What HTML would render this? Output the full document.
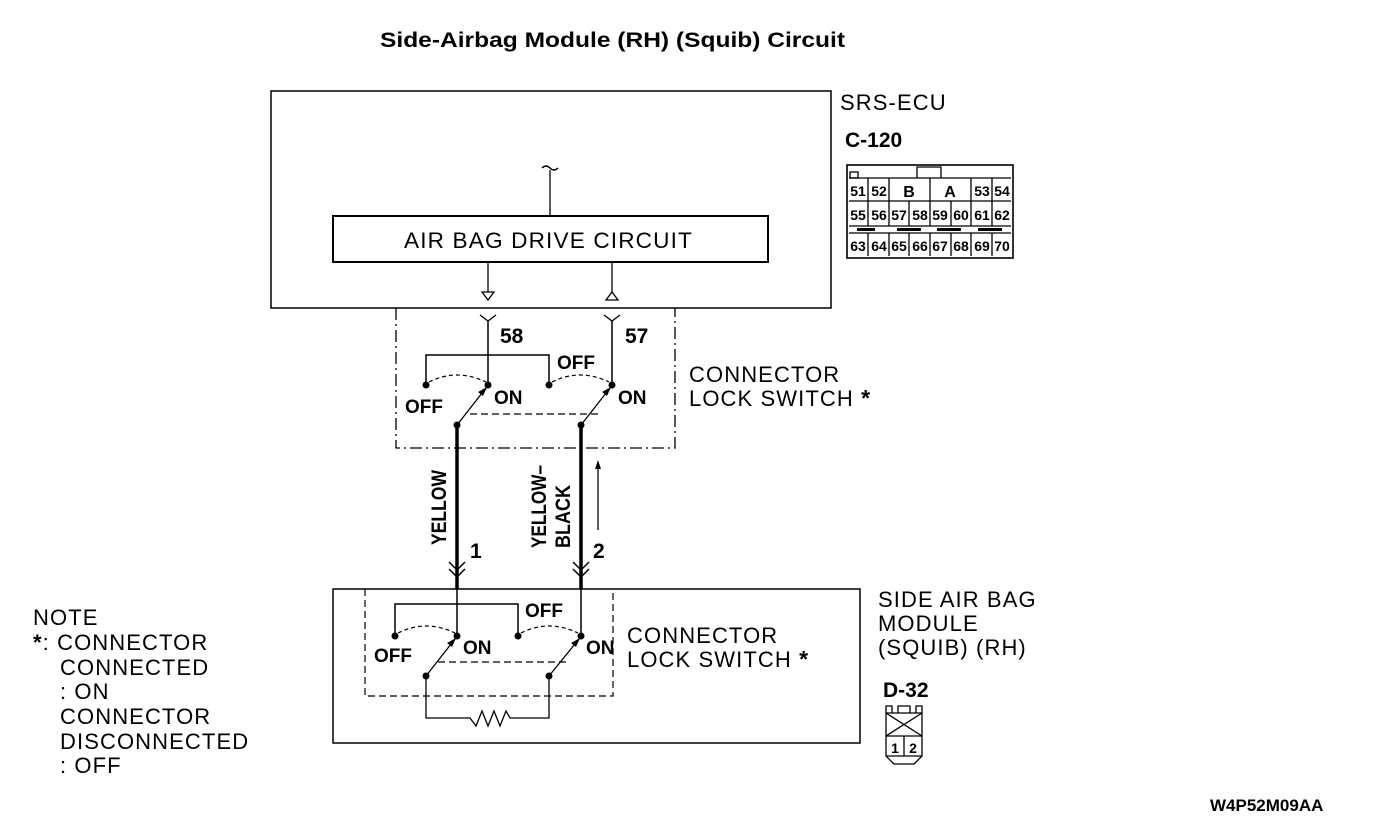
<!DOCTYPE html>
<html><head><meta charset="utf-8"><style>
html,body{margin:0;padding:0;background:#fff;}
svg{display:block;}
text{font-family:"Liberation Sans",sans-serif;fill:#000;}
.b{font-weight:bold;}
.c{font-weight:bold;font-family:"Liberation Sans Narrow","Liberation Sans",sans-serif;}
.w{font-size:22px;letter-spacing:1.1px;}
</style></head><body>
<svg width="1376" height="840" viewBox="0 0 1376 840" xmlns="http://www.w3.org/2000/svg">
<text x="380" y="47" class="b" font-size="21" textLength="465" lengthAdjust="spacingAndGlyphs">Side-Airbag Module (RH) (Squib) Circuit</text>

<rect x="271" y="91" width="560" height="217" fill="none" stroke="#000" stroke-width="1.5"/>
<path d="M542 168 q4 -4 8 0 q4 4 8 0" fill="none" stroke="#000" stroke-width="1.3"/>
<line x1="550" y1="170" x2="550" y2="216" stroke="#000" stroke-width="1.3"/>
<rect x="333" y="216" width="435" height="46" fill="none" stroke="#000" stroke-width="2"/>
<text x="404" y="248" class="w" textLength="289" lengthAdjust="spacingAndGlyphs">AIR BAG DRIVE CIRCUIT</text>
<line x1="488" y1="262" x2="488" y2="292" stroke="#000" stroke-width="1.3"/>
<path d="M482 292 L494 292 L488 300 Z" fill="#fff" stroke="#000" stroke-width="1.3"/>
<line x1="612" y1="262" x2="612" y2="292" stroke="#000" stroke-width="1.3"/>
<path d="M606 300 L618 300 L612 292 Z" fill="#fff" stroke="#000" stroke-width="1.3"/>

<path d="M396 308 L396 448 L675 448 L675 308" fill="none" stroke="#000" stroke-width="1.3" stroke-dasharray="12,4,2,4"/>
<path d="M480 315 L488 321 L496 315 M604 315 L612 321 L620 315" fill="none" stroke="#000" stroke-width="1.3"/>
<line x1="488" y1="321" x2="488" y2="385" stroke="#000" stroke-width="1.5"/>
<line x1="612" y1="321" x2="612" y2="385" stroke="#000" stroke-width="1.5"/>
<text x="500" y="343" class="c" font-size="21">58</text>
<text x="625" y="343" class="c" font-size="21">57</text>
<path d="M426 385 L426 355 L549 355 L549 385" fill="none" stroke="#000" stroke-width="1.5"/>
<path d="M429 382 Q457 368 486 382 M552 382 Q580 368 609 382" fill="none" stroke="#000" stroke-width="1.2" stroke-dasharray="4,3"/>
<g fill="#000"><circle cx="426" cy="385" r="3.5"/><circle cx="488" cy="385" r="3.5"/><circle cx="549" cy="385" r="3.5"/><circle cx="612" cy="385" r="3.5"/><circle cx="457" cy="425" r="3.5"/><circle cx="581" cy="425" r="3.5"/></g>
<line x1="457" y1="425" x2="486" y2="388" stroke="#000" stroke-width="1.3"/>
<path d="M487 387 L478 392 L483 396 Z" fill="#000"/>
<line x1="581" y1="425" x2="610" y2="388" stroke="#000" stroke-width="1.3"/>
<path d="M611 387 L602 392 L607 396 Z" fill="#000"/>
<line x1="470" y1="414" x2="600" y2="414" stroke="#000" stroke-width="1.2" stroke-dasharray="7,4"/>
<text x="405" y="413" class="c" font-size="19">OFF</text>
<text x="494" y="404" class="c" font-size="19">ON</text>
<text x="557" y="369" class="c" font-size="19">OFF</text>
<text x="618" y="404" class="c" font-size="19">ON</text>
<text x="689" y="382" class="w">CONNECTOR</text>
<text x="689" y="406" class="w">LOCK SWITCH <tspan class="b" font-size="23">*</tspan></text>

<line x1="457" y1="425" x2="457" y2="589" stroke="#000" stroke-width="3.5"/>
<line x1="581" y1="425" x2="581" y2="589" stroke="#000" stroke-width="3.5"/>
<path d="M449 562 L457 570 L465 562 M449 569 L457 577 L465 569 M573 562 L581 570 L589 562 M573 569 L581 577 L589 569" fill="none" stroke="#000" stroke-width="1.5"/>
<line x1="598" y1="530" x2="598" y2="464" stroke="#000" stroke-width="1.3"/>
<path d="M598 460 L595 469 L601 469 Z" fill="#000"/>
<text transform="translate(446,545) rotate(-90)" class="c" font-size="21" textLength="75" lengthAdjust="spacingAndGlyphs">YELLOW</text>
<text transform="translate(546,548) rotate(-90)" class="c" font-size="21" textLength="83" lengthAdjust="spacingAndGlyphs">YELLOW–</text>
<text transform="translate(570,548) rotate(-90)" class="c" font-size="21" textLength="63" lengthAdjust="spacingAndGlyphs">BLACK</text>
<text x="470" y="558" class="c" font-size="21">1</text>
<text x="593" y="558" class="c" font-size="21">2</text>

<rect x="333" y="589" width="527" height="154" fill="none" stroke="#000" stroke-width="1.5"/>
<path d="M365 589 L365 696 L613 696 L613 589" fill="none" stroke="#000" stroke-width="1.2" stroke-dasharray="7,4"/>
<line x1="457" y1="589" x2="457" y2="636" stroke="#000" stroke-width="1.5"/>
<line x1="581" y1="589" x2="581" y2="636" stroke="#000" stroke-width="1.5"/>
<path d="M395 636 L395 604 L518 604 L518 636" fill="none" stroke="#000" stroke-width="1.5"/>
<path d="M398 633 Q426 619 455 633 M521 633 Q549 619 578 633" fill="none" stroke="#000" stroke-width="1.2" stroke-dasharray="4,3"/>
<g fill="#000"><circle cx="395" cy="636" r="3.5"/><circle cx="457" cy="636" r="3.5"/><circle cx="518" cy="636" r="3.5"/><circle cx="581" cy="636" r="3.5"/><circle cx="426" cy="676" r="3.5"/><circle cx="549" cy="676" r="3.5"/></g>
<line x1="426" y1="676" x2="455" y2="639" stroke="#000" stroke-width="1.3"/>
<path d="M456 638 L447 643 L452 647 Z" fill="#000"/>
<line x1="549" y1="676" x2="579" y2="639" stroke="#000" stroke-width="1.3"/>
<path d="M580 638 L571 643 L576 647 Z" fill="#000"/>
<line x1="438" y1="662" x2="568" y2="662" stroke="#000" stroke-width="1.2" stroke-dasharray="7,4"/>
<path d="M426 676 L426 718 L470 718 L476 726 L482 711 L488 726 L494 711 L500 726 L506 711 L510 718 L549 718 L549 676" fill="none" stroke="#000" stroke-width="1.3"/>
<text x="374" y="662" class="c" font-size="19">OFF</text>
<text x="463" y="654" class="c" font-size="19">ON</text>
<text x="525" y="617" class="c" font-size="19">OFF</text>
<text x="586" y="654" class="c" font-size="19">ON</text>
<text x="627" y="643" class="w">CONNECTOR</text>
<text x="627" y="667" class="w">LOCK SWITCH <tspan class="b" font-size="23">*</tspan></text>

<text x="840" y="110" class="w">SRS-ECU</text>
<text x="845" y="147" class="c" font-size="21">C-120</text>
<g stroke="#000" fill="none" stroke-width="1.3">
<rect x="847" y="165" width="166" height="93" stroke-width="1.6"/>
<rect x="850" y="172" width="8" height="6"/>
<path d="M917 178 L917 167 L941 167 L941 178"/>
<line x1="849" y1="178" x2="1011" y2="178"/>
<line x1="849" y1="201" x2="1011" y2="201"/>
<line x1="849" y1="226" x2="1011" y2="226"/>
<line x1="849" y1="233" x2="1011" y2="233"/>
<line x1="868" y1="178" x2="868" y2="201"/><line x1="889" y1="178" x2="889" y2="201"/>
<line x1="930" y1="178" x2="930" y2="201"/><line x1="971" y1="178" x2="971" y2="201"/><line x1="992" y1="178" x2="992" y2="201"/>
<path d="M868 201V226M889 201V226M909 201V226M930 201V226M951 201V226M971 201V226M992 201V226"/>
<path d="M868 233V256M889 233V256M909 233V256M930 233V256M951 233V256M971 233V256M992 233V256"/>
</g>
<g fill="#000"><rect x="857" y="228" width="18" height="3"/><rect x="897" y="228" width="24" height="3"/><rect x="937" y="228" width="24" height="3"/><rect x="978" y="228" width="24" height="3"/></g>
<g class="c" font-size="14" text-anchor="middle">
<text x="858" y="196">51</text><text x="879" y="196">52</text><text x="909" y="197" font-size="16">B</text><text x="950" y="197" font-size="16">A</text><text x="982" y="196">53</text><text x="1002" y="196">54</text>
<text x="858" y="220">55</text><text x="879" y="220">56</text><text x="899" y="220">57</text><text x="920" y="220">58</text><text x="940" y="220">59</text><text x="961" y="220">60</text><text x="982" y="220">61</text><text x="1002" y="220">62</text>
<text x="858" y="251">63</text><text x="879" y="251">64</text><text x="899" y="251">65</text><text x="920" y="251">66</text><text x="940" y="251">67</text><text x="961" y="251">68</text><text x="982" y="251">69</text><text x="1002" y="251">70</text>
</g>

<text x="878" y="607" class="w">SIDE AIR BAG</text>
<text x="878" y="631" class="w">MODULE</text>
<text x="878" y="655" class="w">(SQUIB) (RH)</text>
<text x="883" y="697" class="c" font-size="21">D-32</text>
<g stroke="#000" fill="none" stroke-width="1.3">
<path d="M886 713 L886 756 L894 764 L914 764 L922 756 L922 713 Z"/>
<path d="M886 713 V706 H892 V713 M898 713 V706 H910 V713 M916 713 V706 H922 V713"/>
<path d="M886 713 L922 736 M922 713 L886 736"/>
<line x1="886" y1="736" x2="922" y2="736"/>
<line x1="904" y1="736" x2="904" y2="756"/>
<line x1="886" y1="756" x2="922" y2="756"/>
</g>
<text x="895" y="753" class="c" font-size="14" text-anchor="middle">1</text>
<text x="913" y="753" class="c" font-size="14" text-anchor="middle">2</text>

<g>
<text x="33" y="625" class="w">NOTE</text>
<text x="33" y="650" class="w"><tspan class="b">*</tspan>: CONNECTOR</text>
<text x="60" y="675" class="w">CONNECTED</text>
<text x="60" y="699" class="w">: ON</text>
<text x="60" y="724" class="w">CONNECTOR</text>
<text x="60" y="749" class="w">DISCONNECTED</text>
<text x="60" y="773" class="w">: OFF</text>
</g>
<text x="1210" y="811" class="c" font-size="17">W4P52M09AA</text>
</svg>
</body></html>
